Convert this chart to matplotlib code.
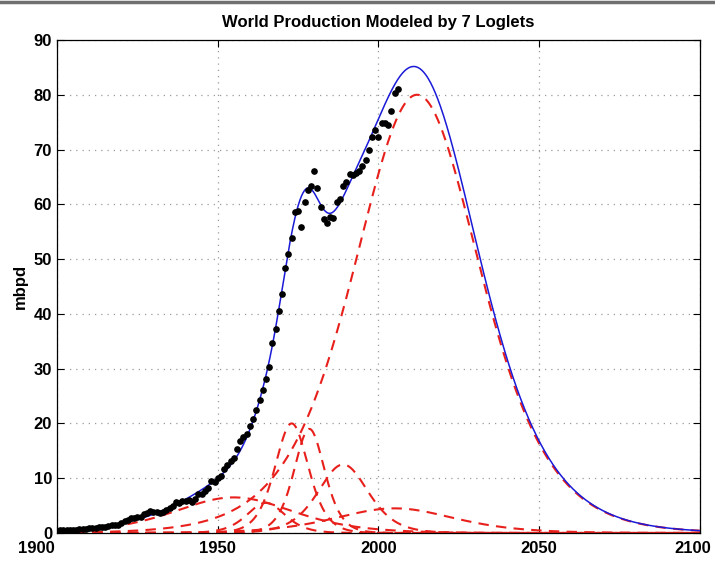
import numpy as np
import matplotlib
matplotlib.use("Agg")
import matplotlib.pyplot as plt
from matplotlib.lines import Line2D
from matplotlib.transforms import ScaledTranslation

# observed world production, mbpd (one point per year, 1900-2006)
years = np.arange(1900, 2007)
prod = [0.45, 0.48, 0.5, 0.55, 0.6, 0.6, 0.6, 0.7, 0.78, 0.82,
        0.88, 0.92, 0.95, 1.05, 1.1, 1.18, 1.25, 1.38, 1.38, 1.5,
        1.85, 2.1, 2.35, 2.75, 2.75, 2.9, 3.0, 3.45, 3.65, 4.05,
        3.85, 3.75, 3.6, 3.9, 4.15, 4.5, 4.85, 5.6, 5.5, 5.75,
        5.9, 6.1, 5.65, 6.2, 7.05, 7.1, 7.6, 8.3, 9.4, 9.3,
        10.0, 10.4, 11.7, 12.4, 13.1, 13.7, 15.4, 16.8, 17.6, 18.1,
        19.5, 20.9, 22.4, 24.3, 26.1, 28.2, 30.3, 34.7, 37.2, 40.6,
        43.7, 48.3, 50.9, 53.8, 58.6, 58.8, 55.9, 60.4, 62.7, 63.3,
        66.0, 62.9, 59.5, 57.3, 56.6, 57.7, 57.5, 60.5, 61.0, 63.3,
        64.0, 65.5, 65.3, 65.8, 66.0, 67.0, 68.1, 69.9, 72.2, 73.6,
        72.3, 74.9, 74.8, 74.5, 77.0, 80.3, 81.1]

# the 7 loglets: peak rate (mbpd), peak year, characteristic width (years)
peaks = [80.0, 20.0, 19.0, 12.5, 5.5, 6.5, 4.5]
centers = [2012.0, 1973.0, 1978.5, 1989.0, 1965.0, 1955.0, 2005.0]
widths = [26.5, 7.0, 6.4, 10.5, 8.0, 25.0, 25.0]

t = np.linspace(1900, 2100, 801)
loglets = [p / np.cosh((t - c) / w) ** 2 for p, c, w in zip(peaks, centers, widths)]
total = np.sum(loglets, axis=0)

plt.rcParams['font.family'] = ['Liberation Sans', 'DejaVu Sans']
plt.rcParams['font.weight'] = 'bold'

fig = plt.figure(figsize=(7.15, 5.63), dpi=100)
ax = fig.add_axes([0.0797, 0.0533, 0.8993, 0.8757])

for y in loglets:
    ax.plot(t, y, color='#e8201c', lw=1.5, ls=(0, (5, 3.5)), zorder=2)
ax.plot(t, total, color='#1a1ad8', lw=1.1, zorder=3)
ax.plot(years, prod, 'o', color='black', ms=3.8, zorder=4)

ax.set_xlim(1900, 2100)
ax.set_ylim(0, 90)
ax.set_xticks(range(1900, 2101, 50))
ax.set_yticks(range(0, 91, 10))
ax.grid(True, color='#9a9a9a', ls=(0, (1, 4)), lw=0.9)
ax.tick_params(direction='in', top=True, right=True, labelsize=12, length=5, width=0.8)
ax.tick_params(axis='x', pad=6)
for s in ax.spines.values():
    s.set_linewidth(0.9)

# end labels sit pulled inward, as in the exported figure
xl = ax.get_xticklabels()
xl[0].set_horizontalalignment('right')
xl[0].set_transform(xl[0].get_transform() + ScaledTranslation(-0.02, 0, fig.dpi_scale_trans))
xl[-1].set_transform(xl[-1].get_transform() + ScaledTranslation(-0.07, 0, fig.dpi_scale_trans))

ax.set_title('World Production Modeled by 7 Loglets', fontsize=12, fontweight='bold', pad=9)
ax.set_ylabel('mbpd', fontsize=12, fontweight='bold', labelpad=4)

fig.add_artist(Line2D([0, 1], [0.997, 0.997], color='#707070', lw=2.5))

fig.savefig('out.png', dpi=100)
